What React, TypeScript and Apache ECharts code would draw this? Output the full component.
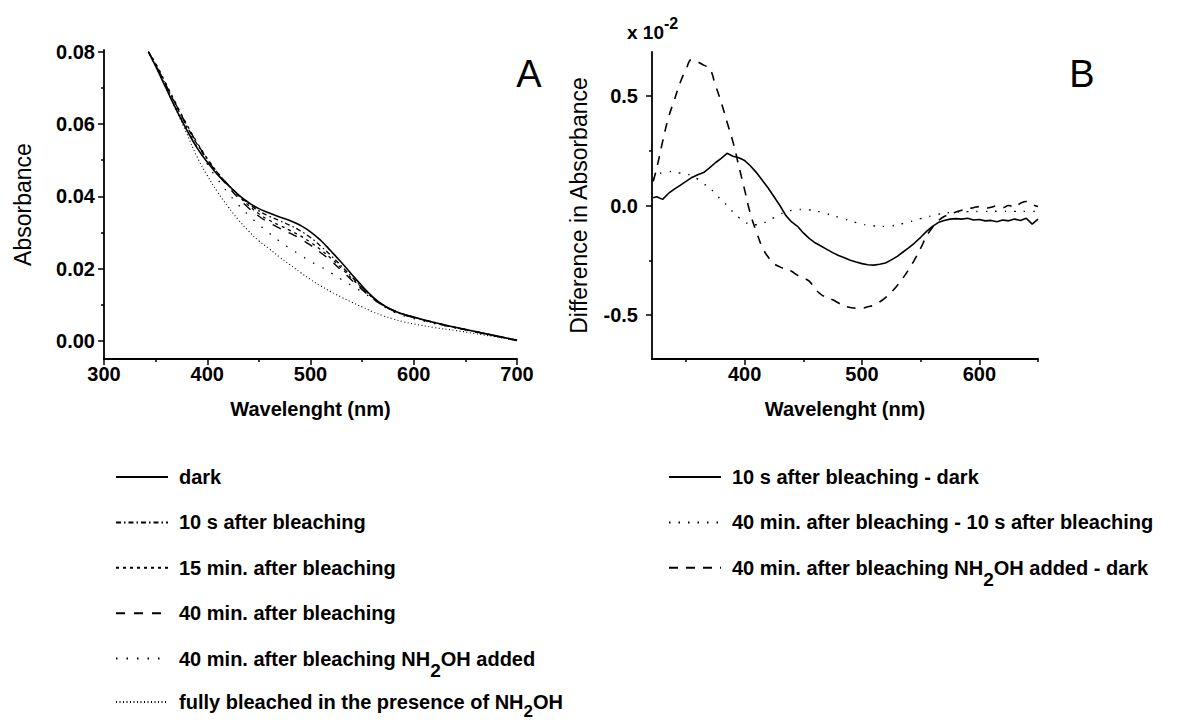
import React, { useEffect, useRef } from 'react';
import * as echarts from 'echarts';

const FONT = '"Liberation Sans", Arial, Helvetica, sans-serif';

// ---------- Panel A data ----------
const aWavelength = [343, 350, 360, 370, 380, 390, 400, 410, 420, 430, 440, 450, 460, 470, 480, 490, 500, 510, 520, 530, 540, 550, 560, 570, 580, 590, 600, 620, 640, 660, 680, 700];
const aDark = [0.0800, 0.0760, 0.0700, 0.0640, 0.0585, 0.0535, 0.0495, 0.0460, 0.0432, 0.0405, 0.0383, 0.0366, 0.0354, 0.0343, 0.0333, 0.0320, 0.0302, 0.0278, 0.0248, 0.0217, 0.0184, 0.0152, 0.0123, 0.0100, 0.0085, 0.0074, 0.0066, 0.0051, 0.0038, 0.0026, 0.0014, 0.0002];
const a10s = [0.0800, 0.0765, 0.0707, 0.0650, 0.0595, 0.0545, 0.0502, 0.0465, 0.0434, 0.0405, 0.0380, 0.0360, 0.0345, 0.0333, 0.0320, 0.0305, 0.0286, 0.0262, 0.0236, 0.0207, 0.0177, 0.0148, 0.0121, 0.0100, 0.0085, 0.0074, 0.0066, 0.0051, 0.0038, 0.0026, 0.0014, 0.0002];
const a15min = [0.0800, 0.0768, 0.0712, 0.0655, 0.0600, 0.0550, 0.0505, 0.0466, 0.0433, 0.0402, 0.0375, 0.0352, 0.0334, 0.0320, 0.0306, 0.0291, 0.0273, 0.0252, 0.0228, 0.0201, 0.0173, 0.0146, 0.0120, 0.0099, 0.0084, 0.0073, 0.0065, 0.0050, 0.0037, 0.0025, 0.0013, 0.0001];
const a40min = [0.0800, 0.0764, 0.0708, 0.0652, 0.0598, 0.0548, 0.0503, 0.0463, 0.0428, 0.0396, 0.0368, 0.0345, 0.0327, 0.0312, 0.0298, 0.0283, 0.0265, 0.0244, 0.0221, 0.0195, 0.0168, 0.0142, 0.0118, 0.0098, 0.0084, 0.0073, 0.0065, 0.0050, 0.0037, 0.0025, 0.0013, 0.0001];
const a40minNH2OH = [0.0800, 0.0762, 0.0703, 0.0645, 0.0590, 0.0537, 0.0490, 0.0447, 0.0410, 0.0377, 0.0348, 0.0322, 0.0298, 0.0276, 0.0256, 0.0238, 0.0220, 0.0205, 0.0188, 0.0170, 0.0153, 0.0136, 0.0117, 0.0097, 0.0081, 0.0070, 0.0062, 0.0048, 0.0036, 0.0025, 0.0013, 0.0002];
const aFully = [0.0800, 0.0760, 0.0700, 0.0638, 0.0575, 0.0510, 0.0458, 0.0412, 0.0372, 0.0336, 0.0304, 0.0277, 0.0255, 0.0232, 0.0211, 0.0190, 0.0170, 0.0152, 0.0136, 0.0121, 0.0107, 0.0094, 0.0081, 0.0070, 0.0061, 0.0053, 0.0047, 0.0037, 0.0029, 0.0020, 0.0011, 0.0001];

const aNames = [
  'dark',
  '10 s after bleaching',
  '15 min. after bleaching',
  '40 min. after bleaching',
  '40 min. after bleaching NH2OH added',
  'fully bleached in the presence of NH2OH',
];
const aXTicks = [300, 400, 500, 600, 700];
const aXMinorTicks = [350, 450, 550, 650];
const aYTicks = [0, 0.02, 0.04, 0.06, 0.08];
const aYMinorTicks = [0.01, 0.03, 0.05, 0.07];

// ---------- Panel B data (x 10^-2) ----------
const bWavelength = [322, 325, 330, 335, 340, 345, 350, 355, 360, 365, 370, 375, 380, 385, 390, 395, 400, 405, 410, 415, 420, 425, 430, 435, 440, 445, 450, 455, 460, 465, 470, 475, 480, 485, 490, 495, 500, 505, 510, 515, 520, 525, 530, 535, 540, 545, 550, 555, 560, 565, 570, 575, 580, 585, 590, 595, 600, 605, 610, 615, 620, 625, 630, 635, 640, 645, 650];
const b10sMinusDark = [
  0.035, 0.040, 0.028, 0.055, 0.075, 0.092, 0.110, 0.128, 0.140, 0.150,
  0.172, 0.195, 0.215, 0.238, 0.225, 0.218, 0.205, 0.180, 0.150, 0.115,
  0.080, 0.040, 0.000, -0.045, -0.075, -0.095, -0.125, -0.150, -0.170, -0.185,
  -0.200, -0.215, -0.228, -0.238, -0.250, -0.258, -0.265, -0.270, -0.272, -0.268,
  -0.262, -0.248, -0.232, -0.212, -0.192, -0.170, -0.145, -0.118, -0.095, -0.078,
  -0.068, -0.062, -0.060, -0.062, -0.058, -0.066, -0.064, -0.070, -0.068, -0.074,
  -0.066, -0.070, -0.062, -0.068, -0.058, -0.085, -0.062,
];
const b40minMinus10s = [
  0.120, 0.140, 0.150, 0.155, 0.152, 0.148, 0.145, 0.135, 0.120, 0.100,
  0.080, 0.055, 0.025, 0.000, -0.030, -0.055, -0.075, -0.085, -0.088, -0.082,
  -0.070, -0.055, -0.040, -0.030, -0.022, -0.018, -0.018, -0.020, -0.024, -0.030,
  -0.038, -0.046, -0.054, -0.062, -0.070, -0.078, -0.085, -0.090, -0.093, -0.095,
  -0.095, -0.093, -0.088, -0.082, -0.075, -0.068, -0.060, -0.053, -0.046, -0.040,
  -0.035, -0.032, -0.030, -0.029, -0.028, -0.028, -0.027, -0.027, -0.027, -0.026,
  -0.026, -0.027, -0.027, -0.027, -0.027, -0.027, -0.027,
];
const bNH2OHMinusDark = [
  0.110, 0.170, 0.290, 0.400, 0.480, 0.560, 0.620, 0.665, 0.655, 0.640,
  0.625, 0.550, 0.470, 0.380, 0.290, 0.180, 0.070, -0.040, -0.120, -0.190,
  -0.235, -0.265, -0.280, -0.290, -0.300, -0.318, -0.330, -0.345, -0.380, -0.405,
  -0.420, -0.430, -0.445, -0.458, -0.465, -0.468, -0.468, -0.462, -0.455, -0.440,
  -0.420, -0.395, -0.365, -0.330, -0.290, -0.245, -0.195, -0.140, -0.100, -0.070,
  -0.050, -0.040, -0.030, -0.022, -0.015, -0.010, -0.005, -0.012, -0.008, -0.002,
  -0.010, 0.000, -0.008, 0.010, 0.018, 0.005, -0.005,
];
const bNames = [
  '10 s after bleaching - dark',
  '40 min. after bleaching - 10 s after bleaching',
  '40 min. after bleaching NH2OH added - dark',
];
const bXTicks = [400, 500, 600];
const bXMinorTicks = [350, 450, 550, 650];
const bYTicks = [-0.5, 0, 0.5];
const bYMinorTicks = [-0.25, 0.25];

const pairs = (xs: number[], ys: number[]) => xs.map((x, i) => [x, ys[i]]);

const black = '#000';
const boldText = { color: black, fontFamily: FONT, fontWeight: 'bold' as const, fontSize: 20 };
const axisLine = { show: true, onZero: false, lineStyle: { color: black, width: 1.8 } };
const tickStyle = { color: black, width: 1.5 };

function lineSeries(name: string, data: number[][], xi: number, yi: number, type: any, width: number, smooth: boolean) {
  return {
    name,
    type: 'line',
    data,
    xAxisIndex: xi,
    yAxisIndex: yi,
    symbol: 'none',
    smooth,
    lineStyle: { color: black, width, type },
    itemStyle: { color: black },
    emphasis: { disabled: true },
  };
}

const subFormatter = (name: string) => name.replace('NH2OH', 'NH{sub|2}OH');
// subscript shift = 13 - subH / 2
const legendText = (subSize: number, subH: number) => ({
  ...boldText,
  lineHeight: 26,
  padding: [0, 0, 0, 6],
  rich: {
    sub: { ...boldText, fontSize: subSize, lineHeight: 26, height: subH, verticalAlign: 'bottom' },
  },
});
const legendCommon = {
  orient: 'vertical',
  padding: 0,
  height: 400,
  itemWidth: 52,
  itemHeight: 14,
  itemGap: 19.4,
  selectedMode: false,
  itemStyle: { opacity: 0 },
  formatter: subFormatter,
};

const axisTitle = (fontSize: number) => ({ color: black, fontFamily: FONT, fontSize });

export default function App() {
  const ref = useRef<HTMLDivElement>(null);
  useEffect(() => {
    document.body.style.margin = '0';
    const chart = echarts.init(ref.current!, null, { renderer: 'svg', width: 1188, height: 722 });
    const option: any = {
      animation: false,
      backgroundColor: '#fff',
      grid: [
        { left: 104, top: 50, width: 413, height: 309 },
        { left: 652, top: 52, width: 386, height: 307 },
      ],
      xAxis: [
        {
          gridIndex: 0, type: 'value', min: 300, max: 700, position: 'bottom',
          axisLine,
          axisTick: { show: true, customValues: aXTicks, length: 6, lineStyle: tickStyle },
          axisLabel: { ...boldText, customValues: aXTicks, margin: 5 },
          splitLine: { show: false },
          name: 'Wavelenght (nm)', nameLocation: 'middle', nameGap: 40,
          nameTextStyle: { ...boldText },
        },
        {
          gridIndex: 1, type: 'value', min: 321, max: 650, position: 'bottom',
          axisLine,
          axisTick: { show: true, customValues: bXTicks, length: 6, lineStyle: tickStyle },
          axisLabel: { ...boldText, customValues: bXTicks, margin: 5 },
          splitLine: { show: false },
          name: 'Wavelenght (nm)', nameLocation: 'middle', nameGap: 40,
          nameTextStyle: { ...boldText },
        },
        {
          gridIndex: 1, type: 'value', min: 321, max: 650, position: 'bottom',
          axisLine: { show: false, onZero: false },
          axisTick: { show: true, customValues: bXMinorTicks, length: 3, lineStyle: tickStyle },
          axisLabel: { show: false },
          splitLine: { show: false },
        },
        {
          gridIndex: 0, type: 'value', min: 300, max: 700, position: 'bottom',
          axisLine: { show: false, onZero: false },
          axisTick: { show: true, customValues: aXMinorTicks, length: 3, lineStyle: tickStyle },
          axisLabel: { show: false },
          splitLine: { show: false },
        },
      ],
      yAxis: [
        {
          gridIndex: 0, type: 'value', min: -0.005, max: 0.0805, position: 'left',
          axisLine,
          axisTick: { show: true, customValues: aYTicks, length: 6, lineStyle: tickStyle },
          axisLabel: { ...boldText, customValues: aYTicks, margin: 9, formatter: (v: number) => v.toFixed(2) },
          splitLine: { show: false },
          name: 'Absorbance', nameLocation: 'middle', nameGap: 70,
          nameTextStyle: axisTitle(23),
        },
        {
          gridIndex: 0, type: 'value', min: -0.005, max: 0.0805, position: 'left',
          axisLine: { show: false, onZero: false },
          axisTick: { show: true, customValues: aYMinorTicks, length: 3, lineStyle: tickStyle },
          axisLabel: { show: false },
          splitLine: { show: false },
        },
        {
          gridIndex: 1, type: 'value', min: -0.7, max: 0.7, position: 'left',
          axisLine,
          axisTick: { show: true, customValues: bYTicks, length: 6, lineStyle: tickStyle },
          axisLabel: { ...boldText, customValues: bYTicks, margin: 14, formatter: (v: number) => v.toFixed(1) },
          splitLine: { show: false },
          name: 'Difference in Absorbance', nameLocation: 'middle', nameGap: 62,
          nameTextStyle: axisTitle(23),
        },
        {
          gridIndex: 1, type: 'value', min: -0.7, max: 0.7, position: 'left',
          axisLine: { show: false, onZero: false },
          axisTick: { show: true, customValues: bYMinorTicks, length: 3, lineStyle: tickStyle },
          axisLabel: { show: false },
          splitLine: { show: false },
        },
      ],
      legend: [
        { ...legendCommon, textStyle: legendText(19, 2), data: aNames.slice(0, 5), left: 115, top: 464 },
        { ...legendCommon, textStyle: legendText(17, 8), data: aNames.slice(5), left: 115, top: 689 },
        { ...legendCommon, textStyle: legendText(19, 2), data: bNames, left: 668, top: 464 },
      ],
      graphic: [
        {
          type: 'text', x: 529, y: 74,
          style: { text: 'A', fill: black, font: `38px ${FONT}`, textAlign: 'center', textVerticalAlign: 'middle', align: 'center', verticalAlign: 'middle' },
        },
        {
          type: 'text', x: 1082, y: 74,
          style: { text: 'B', fill: black, font: `38px ${FONT}`, textAlign: 'center', textVerticalAlign: 'middle', align: 'center', verticalAlign: 'middle' },
        },
        {
          type: 'text', x: 627, y: 32,
          style: {
            text: '{a|x 10}{sup|-2}', fill: black,
            textAlign: 'left', align: 'left', textVerticalAlign: 'middle', verticalAlign: 'middle',
            rich: {
              a: { ...boldText, fill: black, fontSize: 19, lineHeight: 20 },
              sup: { ...boldText, fill: black, fontSize: 16, lineHeight: 20, padding: [0, 0, 18, 0] },
            },
          },
        },
      ],
      series: [
        lineSeries(aNames[0], pairs(aWavelength, aDark), 0, 0, 'solid', 1.6, true),
        lineSeries(aNames[1], pairs(aWavelength, a10s), 0, 0, [5, 3, 1.5, 3], 1.3, true),
        lineSeries(aNames[2], pairs(aWavelength, a15min), 0, 0, [3, 4], 1.3, true),
        lineSeries(aNames[3], pairs(aWavelength, a40min), 0, 0, [9, 9], 1.4, true),
        lineSeries(aNames[4], pairs(aWavelength, a40minNH2OH), 0, 0, [1.5, 9], 1.3, true),
        lineSeries(aNames[5], pairs(aWavelength, aFully), 0, 0, [1, 2.5], 1.1, true),
        lineSeries(bNames[0], pairs(bWavelength, b10sMinusDark), 1, 2, 'solid', 1.6, false),
        lineSeries(bNames[1], pairs(bWavelength, b40minMinus10s), 1, 2, [1.5, 8], 1.4, true),
        lineSeries(bNames[2], pairs(bWavelength, bNH2OHMinusDark), 1, 2, [9, 8], 1.6, true),
      ],
    };
    chart.setOption(option);
    return () => chart.dispose();
  }, []);
  return <div ref={ref} style={{ width: 1188, height: 722, background: '#fff' }} />;
}
